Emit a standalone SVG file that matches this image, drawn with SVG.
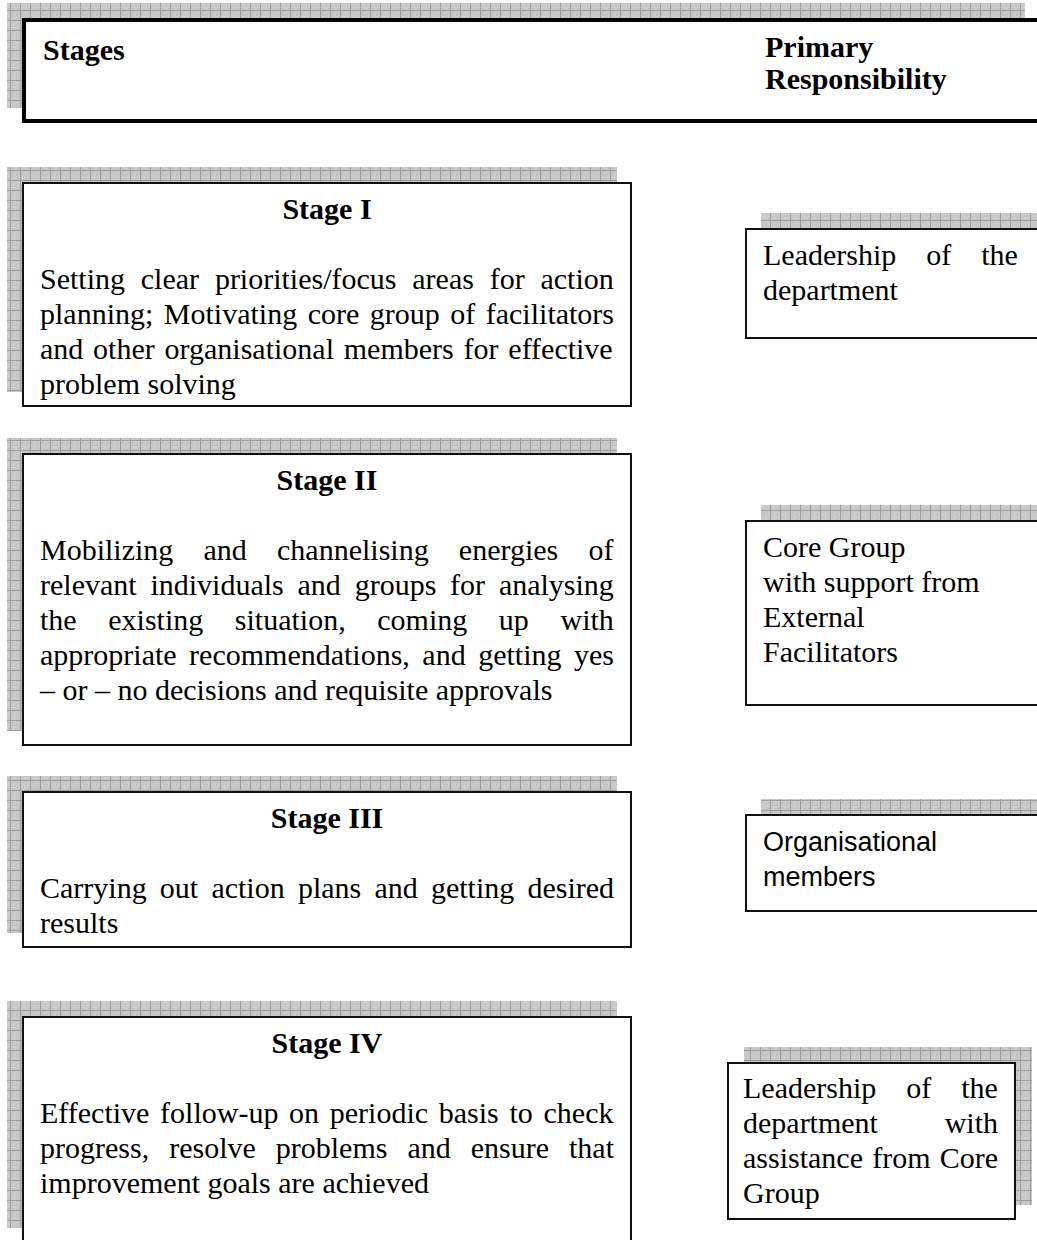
<svg xmlns="http://www.w3.org/2000/svg" width="1037" height="1240" viewBox="0 0 1037 1240">
  <defs>
    <!-- hatched grey drop-shadow texture -->
    <pattern id="grid" width="10" height="10" patternUnits="userSpaceOnUse">
      <rect width="10" height="10" fill="#c9c9c9"/>
      <rect x="2" y="2" width="1" height="1" fill="#b8b8b8"/>
      <rect x="6" y="4" width="1" height="1" fill="#b8b8b8"/>
      <rect x="4" y="7" width="1" height="1" fill="#d6d6d6"/>
      <rect x="8" y="8" width="1" height="1" fill="#b8b8b8"/>
      <rect x="0" y="0" width="10" height="1" fill="#9d9d9d"/>
      <rect x="0" y="0" width="1" height="10" fill="#9d9d9d"/>
    </pattern>
  </defs>
  <style>
    .shadow { fill: url(#grid); }
    .box { fill: #ffffff; stroke: #111111; stroke-width: 2; }
    .head { fill: #ffffff; stroke: #000000; stroke-width: 4; }
    .t { font-family: "Liberation Serif", "Times New Roman", serif; font-size: 30px; fill: #000000; }
    .b { font-weight: bold; }
    .s { font-family: "Liberation Sans", Arial, sans-serif; font-size: 27px; fill: #000000; }
  </style>
  <rect width="1037" height="1240" fill="#ffffff"/>

  <!-- column header -->
  <g id="header">
    <rect class="shadow" x="7" y="3" width="1018" height="105"/>
    <rect class="head" x="24" y="20" width="1020" height="101"/>
    <text class="t b" x="43" y="60">Stages</text>
    <text class="t b" x="765" y="57">Primary</text>
    <text class="t b" x="765" y="89">Responsibility</text>
  </g>

  <!-- stage boxes (left column) -->
  <g id="stage1">
    <rect class="shadow" x="7" y="167" width="610" height="225"/>
    <rect class="box" x="23" y="183" width="608" height="223"/>
    <text class="t b" x="327" y="219" text-anchor="middle">Stage I</text>
    <text class="t" x="40" y="289" word-spacing="8.3">Setting clear priorities/focus areas for action</text>
    <text class="t" x="40" y="324" word-spacing="3">planning; Motivating core group of facilitators</text>
    <text class="t" x="40" y="359" word-spacing="2.3">and other organisational members for effective</text>
    <text class="t" x="40" y="394">problem solving</text>
  </g>

  <g id="stage2">
    <rect class="shadow" x="7" y="438" width="610" height="293"/>
    <rect class="box" x="23" y="454" width="608" height="291"/>
    <text class="t b" x="327" y="490" text-anchor="middle">Stage II</text>
    <text class="t" x="40" y="560" word-spacing="22.7">Mobilizing and channelising energies of</text>
    <text class="t" x="40" y="595" word-spacing="6.3">relevant individuals and groups for analysing</text>
    <text class="t" x="40" y="630" word-spacing="24.1">the existing situation, coming up with</text>
    <text class="t" x="40" y="665" word-spacing="5">appropriate recommendations, and getting yes</text>
    <text class="t" x="40" y="700">– or – no decisions and requisite approvals</text>
  </g>

  <g id="stage3">
    <rect class="shadow" x="7" y="776" width="610" height="157"/>
    <rect class="box" x="23" y="792" width="608" height="155"/>
    <text class="t b" x="327" y="828" text-anchor="middle">Stage III</text>
    <text class="t" x="40" y="898" word-spacing="5.7">Carrying out action plans and getting desired</text>
    <text class="t" x="40" y="933">results</text>
  </g>

  <g id="stage4">
    <rect class="shadow" x="7" y="1001" width="610" height="227"/>
    <rect class="box" x="23" y="1017" width="608" height="240"/>
    <text class="t b" x="327" y="1053" text-anchor="middle">Stage IV</text>
    <text class="t" x="40" y="1123" word-spacing="3.2">Effective follow-up on periodic basis to check</text>
    <text class="t" x="40" y="1158" word-spacing="12.5">progress, resolve problems and ensure that</text>
    <text class="t" x="40" y="1193">improvement goals are achieved</text>
  </g>

  <!-- responsibility boxes (right column) -->
  <g id="resp1">
    <rect class="shadow" x="761" y="213" width="300" height="111"/>
    <rect class="box" x="746" y="229" width="300" height="109"/>
    <text class="t" x="763" y="265" word-spacing="22.5">Leadership of the</text>
    <text class="t" x="763" y="300">department</text>
  </g>

  <g id="resp2">
    <rect class="shadow" x="761" y="505" width="300" height="186"/>
    <rect class="box" x="746" y="521" width="300" height="184"/>
    <text class="t" x="763" y="557">Core Group</text>
    <text class="t" x="763" y="592">with support from</text>
    <text class="t" x="763" y="627">External</text>
    <text class="t" x="763" y="662">Facilitators</text>
  </g>

  <g id="resp3">
    <rect class="shadow" x="761" y="799" width="300" height="98"/>
    <rect class="box" x="746" y="815" width="300" height="96"/>
    <text class="s" x="763" y="851">Organisational</text>
    <text class="s" x="763" y="886">members</text>
  </g>

  <g id="resp4">
    <rect class="shadow" x="744" y="1047" width="288" height="158"/>
    <rect class="box" x="728" y="1063" width="287" height="156"/>
    <text class="t" x="743" y="1098" word-spacing="22.5">Leadership of the</text>
    <text class="t" x="743" y="1133" word-spacing="59.2">department with</text>
    <text class="t" x="743" y="1168" word-spacing="1.7">assistance from Core</text>
    <text class="t" x="743" y="1203">Group</text>
  </g>

  <!-- no connectors are drawn between the boxes -->
  <g id="connectors"/>
</svg>
